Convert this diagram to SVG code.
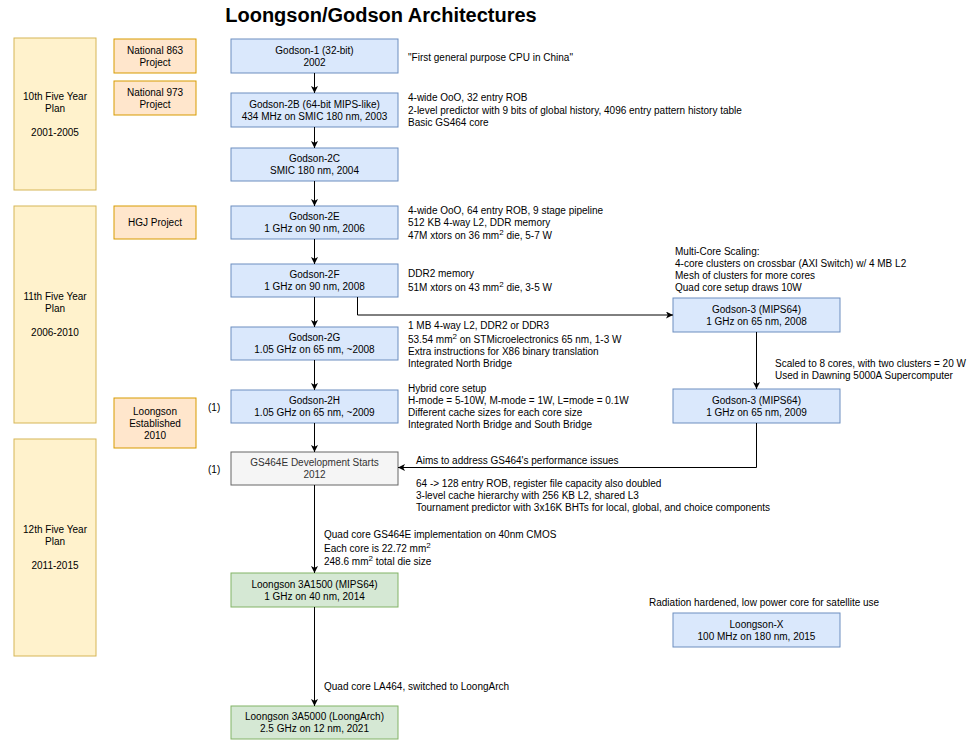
<svg xmlns="http://www.w3.org/2000/svg" width="973" height="744" viewBox="0 0 973 744">
<defs>
<marker id="arr" markerUnits="userSpaceOnUse" markerWidth="8" markerHeight="8" refX="7" refY="3.5" orient="auto">
<path d="M0,0 L7,3.5 L0,7 L1.8,3.5 z" fill="#000"/>
</marker>
<style>
text{font-family:"Liberation Sans",Arial,sans-serif;font-size:10px;fill:#000}
.c{text-anchor:middle}
.title{font-size:20px;font-weight:bold}
.blue{fill:#dae8fc;stroke:#6c8ebf}
.org{fill:#ffe6cc;stroke:#d79b00}
.yel{fill:#fff2cc;stroke:#d6b656}
.grn{fill:#d5e8d4;stroke:#82b366}
.gry{fill:#f5f5f5;stroke:#666666}
.gt{fill:#333333}
.ln{fill:none;stroke:#000;stroke-width:1}
.sup{font-size:8px}
</style>
</defs>
<rect width="973" height="744" fill="#ffffff"/>
<text class="title c" x="381" y="22">Loongson/Godson Architectures</text>

<g id="plan10"><rect class="yel" x="14" y="38" width="82" height="152"/>
<text class="c" x="55" y="99.5">10th Five Year</text><text class="c" x="55" y="111.5">Plan</text><text class="c" x="55" y="135.5">2001-2005</text></g>
<g id="plan11"><rect class="yel" x="14" y="206" width="82" height="217"/>
<text class="c" x="55" y="300">11th Five Year</text><text class="c" x="55" y="312">Plan</text><text class="c" x="55" y="336">2006-2010</text></g>
<g id="plan12"><rect class="yel" x="14" y="439" width="82" height="217"/>
<text class="c" x="55" y="533">12th Five Year</text><text class="c" x="55" y="545">Plan</text><text class="c" x="55" y="569">2011-2015</text></g>

<g id="n863"><rect class="org" x="114" y="39" width="82" height="34"/>
<text class="c" x="155" y="53.5">National 863</text><text class="c" x="155" y="65.5">Project</text></g>
<g id="n973"><rect class="org" x="114" y="81" width="82" height="34"/>
<text class="c" x="155" y="95.5">National 973</text><text class="c" x="155" y="107.5">Project</text></g>
<g id="hgj"><rect class="org" x="114" y="206" width="82" height="33"/>
<text class="c" x="155" y="226">HGJ Project</text></g>
<g id="est"><rect class="org" x="114" y="398" width="82" height="50"/>
<text class="c" x="155" y="414.5">Loongson</text><text class="c" x="155" y="426.5">Established</text><text class="c" x="155" y="438.5">2010</text></g>

<g id="godson1"><rect class="blue" x="231" y="39" width="167" height="34"/>
<text class="c" x="314.5" y="53.5">Godson-1 (32-bit)</text><text class="c" x="314.5" y="65.5">2002</text></g>
<g id="godson2b"><rect class="blue" x="231" y="93" width="167" height="34"/>
<text class="c" x="314.5" y="107.5">Godson-2B (64-bit MIPS-like)</text><text class="c" x="314.5" y="119.5">434 MHz on SMIC 180 nm, 2003</text></g>
<g id="godson2c"><rect class="blue" x="231" y="148" width="167" height="33"/>
<text class="c" x="314.5" y="162">Godson-2C</text><text class="c" x="314.5" y="174">SMIC 180 nm, 2004</text></g>
<g id="godson2e"><rect class="blue" x="231" y="206" width="167" height="33"/>
<text class="c" x="314.5" y="220">Godson-2E</text><text class="c" x="314.5" y="232">1 GHz on 90 nm, 2006</text></g>
<g id="godson2f"><rect class="blue" x="231" y="264" width="167" height="33"/>
<text class="c" x="314.5" y="278">Godson-2F</text><text class="c" x="314.5" y="290">1 GHz on 90 nm, 2008</text></g>
<g id="godson2g"><rect class="blue" x="231" y="327" width="167" height="33"/>
<text class="c" x="314.5" y="341">Godson-2G</text><text class="c" x="314.5" y="353">1.05 GHz on 65 nm, ~2008</text></g>
<g id="godson2h"><rect class="blue" x="231" y="390" width="167" height="33"/>
<text class="c" x="314.5" y="404">Godson-2H</text><text class="c" x="314.5" y="416">1.05 GHz on 65 nm, ~2009</text></g>
<g id="gs464e"><rect class="gry" x="231" y="452" width="167" height="33"/>
<text class="c gt" x="314.5" y="466">GS464E Development Starts</text><text class="c gt" x="314.5" y="478">2012</text></g>
<g id="ls3a1500"><rect class="grn" x="231" y="573" width="167" height="34"/>
<text class="c" x="314.5" y="587.5">Loongson 3A1500 (MIPS64)</text><text class="c" x="314.5" y="599.5">1 GHz on 40 nm, 2014</text></g>
<g id="ls3a5000"><rect class="grn" x="231" y="706" width="167" height="33"/>
<text class="c" x="314.5" y="720">Loongson 3A5000 (LoongArch)</text><text class="c" x="314.5" y="732">2.5 GHz on 12 nm, 2021</text></g>
<g id="godson3a"><rect class="blue" x="673" y="298" width="167" height="34"/>
<text class="c" x="756.5" y="312.5">Godson-3 (MIPS64)</text><text class="c" x="756.5" y="324.5">1 GHz on 65 nm, 2008</text></g>
<g id="godson3b"><rect class="blue" x="673" y="389" width="167" height="34"/>
<text class="c" x="756.5" y="403.5">Godson-3 (MIPS64)</text><text class="c" x="756.5" y="415.5">1 GHz on 65 nm, 2009</text></g>
<g id="loongsonx"><rect class="blue" x="673" y="613" width="167" height="34"/>
<text class="c" x="756.5" y="627.5">Loongson-X</text><text class="c" x="756.5" y="639.5">100 MHz on 180 nm, 2015</text></g>

<g id="connectors">
<line class="ln" x1="314.5" y1="73" x2="314.5" y2="93" marker-end="url(#arr)"/>
<line class="ln" x1="314.5" y1="127" x2="314.5" y2="148" marker-end="url(#arr)"/>
<line class="ln" x1="314.5" y1="181" x2="314.5" y2="206" marker-end="url(#arr)"/>
<line class="ln" x1="314.5" y1="239" x2="314.5" y2="264" marker-end="url(#arr)"/>
<line class="ln" x1="314.5" y1="297" x2="314.5" y2="327" marker-end="url(#arr)"/>
<line class="ln" x1="314.5" y1="360" x2="314.5" y2="390" marker-end="url(#arr)"/>
<line class="ln" x1="314.5" y1="423" x2="314.5" y2="452" marker-end="url(#arr)"/>
<line class="ln" x1="314.5" y1="485" x2="314.5" y2="573" marker-end="url(#arr)"/>
<line class="ln" x1="314.5" y1="607" x2="314.5" y2="706" marker-end="url(#arr)"/>
<polyline class="ln" points="357.5,297 357.5,315 673,315" marker-end="url(#arr)"/>
<line class="ln" x1="756.5" y1="332" x2="756.5" y2="389" marker-end="url(#arr)"/>
<polyline class="ln" points="756.5,423 756.5,467.5 398,467.5" marker-end="url(#arr)"/>
</g>

<g id="notes">
<text x="408" y="60.5">"First general purpose CPU in China"</text>
<text x="408" y="101">4-wide OoO, 32 entry ROB</text>
<text x="408" y="113.5">2-level predictor with 9 bits of global history, 4096 entry pattern history table</text>
<text x="408" y="126">Basic GS464 core</text>
<text x="408" y="213.5">4-wide OoO, 64 entry ROB, 9 stage pipeline</text>
<text x="408" y="225.5">512 KB 4-way L2, DDR memory</text>
<text x="408" y="238.5">47M xtors on 36 mm<tspan class="sup" dy="-4">2</tspan><tspan dy="4"> die, 5-7 W</tspan></text>
<text x="408" y="276.5">DDR2 memory</text>
<text x="408" y="290.5">51M xtors on 43 mm<tspan class="sup" dy="-4">2</tspan><tspan dy="4"> die, 3-5 W</tspan></text>
<text x="408" y="328.5">1 MB 4-way L2, DDR2 or DDR3</text>
<text x="408" y="342.5">53.54 mm<tspan class="sup" dy="-4">2</tspan><tspan dy="4"> on STMicroelectronics 65 nm, 1-3 W</tspan></text>
<text x="408" y="354.5">Extra instructions for X86 binary translation</text>
<text x="408" y="366.5">Integrated North Bridge</text>
<text x="408" y="391.5">Hybrid core setup</text>
<text x="408" y="403.5">H-mode = 5-10W, M-mode = 1W, L=mode = 0.1W</text>
<text x="408" y="415.5">Different cache sizes for each core size</text>
<text x="408" y="427.5">Integrated North Bridge and South Bridge</text>
<text x="675" y="254.5">Multi-Core Scaling:</text>
<text x="675" y="266.5">4-core clusters on crossbar (AXI Switch) w/ 4 MB L2</text>
<text x="675" y="278.5">Mesh of clusters for more cores</text>
<text x="675" y="290.5">Quad core setup draws 10W</text>
<text x="775" y="366.5">Scaled to 8 cores, with two clusters = 20 W</text>
<text x="775" y="378.5">Used in Dawning 5000A Supercomputer</text>
<text x="208" y="410.5">(1)</text>
<text x="208" y="472.5">(1)</text>
<text x="416" y="463.5">Aims to address GS464's performance issues</text>
<text x="416" y="486.5">64 -&gt; 128 entry ROB, register file capacity also doubled</text>
<text x="416" y="498.5">3-level cache hierarchy with 256 KB L2, shared L3</text>
<text x="416" y="510.5">Tournament predictor with 3x16K BHTs for local, global, and choice components</text>
<text x="324" y="537.5">Quad core GS464E implementation on 40nm CMOS</text>
<text x="324" y="551.5">Each core is 22.72 mm<tspan class="sup" dy="-4">2</tspan></text>
<text x="324" y="564.5">248.6 mm<tspan class="sup" dy="-4">2</tspan><tspan dy="4"> total die size</tspan></text>
<text x="324" y="689.5">Quad core LA464, switched to LoongArch</text>
<text x="649" y="605.5">Radiation hardened, low power core for satellite use</text>
</g>
</svg>
